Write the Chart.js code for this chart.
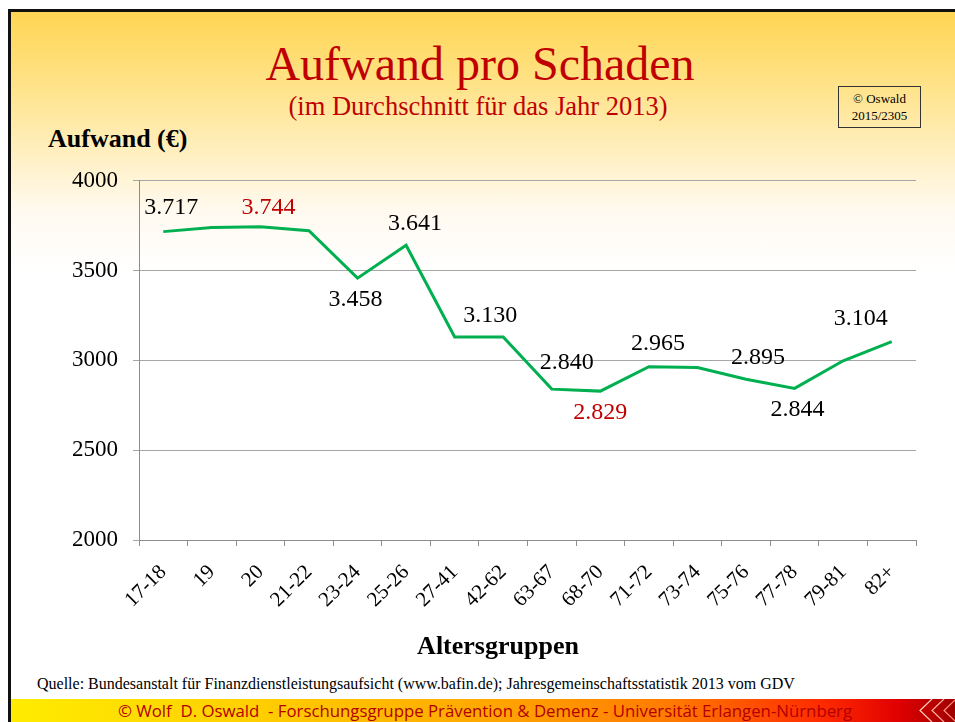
<!DOCTYPE html>
<html>
<head>
<meta charset="utf-8">
<script src="https://cdn.jsdelivr.net/npm/chart.js@4/dist/chart.umd.min.js"></script>
<style>
  html, body { margin: 0; padding: 0; background: #fff; }
  #slide { position: relative; width: 955px; height: 722px; overflow: hidden; background: #fff; }
  #bg { position: absolute; left: 8px; top: 9px; width: 944px; height: 713px;
        border-top: 3px solid #111; border-left: 3px solid #111; border-right: 2px solid #111;
        background: linear-gradient(to bottom, #ffd552 0px, #ffe48e 80px, #fff1c8 150px, #fffaf0 200px, #ffffff 260px); }
  .txt { position: absolute; font-family: "Liberation Serif", "DejaVu Serif", serif; white-space: pre; }
  #title { left: 0; width: 960px; top: 36px; text-align: center; font-size: 48px; color: #c00000; }
  #subtitle { left: 0; width: 956px; top: 91px; text-align: center; font-size: 26.5px; color: #c00000; }
  #ytitle { left: 48px; top: 124px; font-size: 26px; font-weight: bold; color: #000; }
  #xtitle { left: 0; width: 996px; top: 631px; text-align: center; font-size: 26px; font-weight: bold; color: #000; }
  #copy { left: 838px; top: 86px; width: 81px; border: 1px solid #333; text-align: center;
          font-size: 13px; line-height: 17px; padding-top: 3px; height: 37px; }
  #source { left: 37px; top: 675px; font-size: 16px; color: #000; }
  #footer { position: absolute; left: 11px; top: 699px; width: 944px; height: 23px;
            background: linear-gradient(to right, #ffec00 0%, #ffd000 25%, #ffa800 50%, #ff7a00 70%, #ff2a00 86%, #e00000 94%, #a00000 100%); }
  #footertxt { position: absolute; left: 0; width: 970px; top: 699px; text-align: center; white-space: pre;
               font-family: "Open Sans", "Noto Sans", sans-serif; font-size: 16.8px; color: #b00000; }
  #chev { position: absolute; left: 910px; top: 699px; }
  #chartbox { position: absolute; left: 40px; top: 152px; width: 900px; height: 488px; }
</style>
</head>
<body>
<div id="slide">
  <div id="bg"></div>
  <div class="txt" id="title">Aufwand pro Schaden</div>
  <div class="txt" id="subtitle">(im Durchschnitt für das Jahr 2013)</div>
  <div class="txt" id="copy">© Oswald<br>2015/2305</div>
  <div class="txt" id="ytitle">Aufwand (€)</div>
  <div id="chartbox"><canvas id="chart" width="900" height="488"></canvas></div>
  <div class="txt" id="xtitle">Altersgruppen</div>
  <div class="txt" id="source">Quelle: Bundesanstalt für Finanzdienstleistungsaufsicht (www.bafin.de); Jahresgemeinschaftsstatistik 2013 vom GDV</div>
  <div id="footer"></div>
  <svg id="chev" width="45" height="23">
    <polyline points="22,0 10,11.5 22,23" fill="none" stroke="#ffd0c0" stroke-width="1.2"/>
    <polyline points="34,0 22,11.5 34,23" fill="none" stroke="#ffb0a0" stroke-width="1.2"/>
    <polyline points="46,0 34,11.5 46,23" fill="none" stroke="#ff9080" stroke-width="1.2"/>
  </svg>
  <div id="footertxt">© Wolf  D. Oswald  - Forschungsgruppe Prävention &amp; Demenz - Universität Erlangen-Nürnberg</div>
</div>
<script>
// age groups and average expense per claim (EUR), 2013
const ageGroups = ['17-18', '19', '20', '21-22', '23-24', '25-26', '27-41', '42-62',
                   '63-67', '68-70', '71-72', '73-74', '75-76', '77-78', '79-81', '82+'];
const expense = [3717, 3740, 3744, 3722, 3458, 3641, 3130, 3130,
                 2840, 2829, 2965, 2960, 2895, 2844, 2998, 3104];
const yTicks = [2000, 2500, 3000, 3500, 4000];

// which points carry a value label, and where it sits relative to the point
const valueLabels = [
  { i: 0, dx: 8, dy: -24 },
  { i: 2, dx: 8, dy: -19 },
  { i: 4, dx: -2, dy: 22 },
  { i: 5, dx: 9, dy: -22 },
  { i: 7, dx: -13, dy: -21 },
  { i: 8, dx: 15, dy: -26 },
  { i: 9, dx: 0, dy: 22 },
  { i: 10, dx: 9, dy: -23 },
  { i: 12, dx: 12, dy: -22 },
  { i: 13, dx: 3, dy: 21 },
  { i: 15, dx: -31, dy: -23 }
];

const fmt = v => String(v).replace(/\B(?=(\d{3})+(?!\d))/g, '.');

const pointLabels = {
  id: 'pointLabels',
  afterDatasetsDraw(chart) {
    const ctx = chart.ctx;
    const meta = chart.getDatasetMeta(0);
    const hi = Math.max(...expense), lo = Math.min(...expense);
    ctx.save();
    ctx.font = '24px "Liberation Serif", serif';
    ctx.textAlign = 'center';
    ctx.textBaseline = 'middle';
    valueLabels.forEach(l => {
      const pt = meta.data[l.i];
      const v = expense[l.i];
      ctx.fillStyle = (v === hi || v === lo) ? '#c00000' : '#000';
      ctx.fillText(fmt(v), pt.x + l.dx, pt.y + l.dy);
    });
    ctx.restore();
  }
};

const ctx = document.getElementById('chart').getContext('2d');
new Chart(ctx, {
  type: 'line',
  data: {
    labels: ageGroups,
    datasets: [{
      data: expense,
      borderColor: '#00b050',
      borderWidth: 3,
      pointRadius: 0,
      tension: 0,
      fill: false
    }]
  },
  options: {
    responsive: false,
    animation: false,
    layout: { padding: { top: 0, right: 24, bottom: 0, left: 0 } },
    plugins: { legend: { display: false }, tooltip: { enabled: false } },
    scales: {
      x: {
        offset: true,
        afterFit: s => { s.height = 100; },
        grid: { offset: true, drawOnChartArea: false, tickLength: 6, color: '#8c8c8c' },
        border: { color: '#8c8c8c' },
        ticks: {
          color: '#000', minRotation: 45, maxRotation: 45, padding: 14,
          font: { family: '"Liberation Serif", serif', size: 21 }
        }
      },
      y: {
        min: 2000, max: 4000,
        afterFit: s => { s.width = 99; },
        afterBuildTicks: s => { s.ticks = yTicks.map(v => ({ value: v })); },
        grid: { color: '#a6a6a6', tickLength: 6 },
        border: { color: '#8c8c8c' },
        ticks: {
          color: '#000', padding: 15,
          callback: v => String(v),
          font: { family: '"Liberation Serif", serif', size: 23 }
        }
      }
    }
  },
  plugins: [pointLabels]
});
</script>
</body>
</html>
